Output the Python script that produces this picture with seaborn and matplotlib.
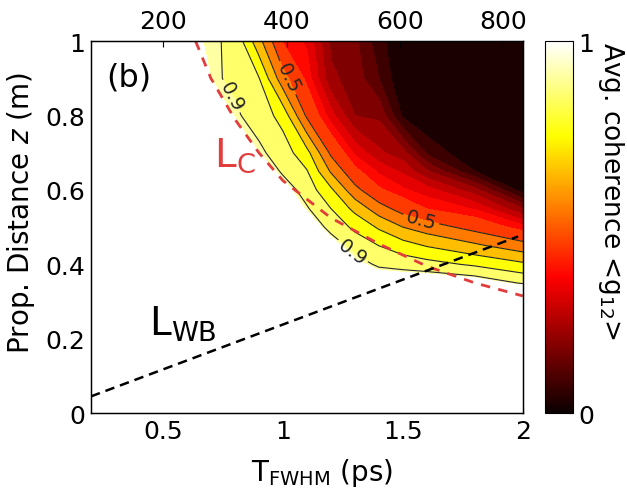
import numpy as np
import matplotlib
matplotlib.use("Agg")
import matplotlib.pyplot as plt
from matplotlib.ticker import FuncFormatter
import seaborn as sns

sns.set_style("white")
plt.rcParams['font.family'] = ['DejaVu Sans']
plt.rcParams['mathtext.fontset'] = 'dejavusans'
plt.rcParams['text.color'] = 'black'
plt.rcParams['axes.labelcolor'] = 'black'

# --------------------------------
# Data
# --------------------------------
# pulse width T_FWHM (ps) and propagation distance z (m)
x_grid = [0.2, 0.6, 0.7, 0.8, 0.9, 1.0, 1.1, 1.2, 1.3, 1.4, 1.5, 1.6, 1.8, 2.0]
z_grid = [0.0, 0.33, 0.35, 0.4, 0.45, 0.5, 0.55, 0.6, 0.65, 0.7, 0.8, 0.9, 1.0]

# average coherence <g12>, one row per z value
coherence = [
    [1, 1, 1, 1, 1, 1, 1, 1, 1, 1, 1, 1, 1, 1],
    [1, 1, 1, 1, 1, 1, 1, 1, 1, 1, 1, 1, 1, 1],
    [1, 1, 1, 1, 1, 1, 1, 1, 1, 1, 1, 1, 0.97, 0.89],
    [1, 1, 1, 1, 1, 1, 1, 1, 0.95, 0.882, 0.86, 0.837, 0.784, 0.72],
    [1, 1, 1, 1, 1, 1, 1, 0.97, 0.856, 0.80, 0.743, 0.694, 0.62, 0.54],
    [1, 1, 1, 1, 1, 1, 1, 0.862, 0.78, 0.686, 0.60, 0.549, 0.464, 0.368],
    [1, 1, 1, 1, 1, 1, 0.91, 0.80, 0.671, 0.543, 0.457, 0.397, 0.344, 0.20],
    [1, 1, 1, 1, 1, 0.96, 0.854, 0.719, 0.532, 0.412, 0.359, 0.322, 0.22, 0.02],
    [1, 1, 1, 1, 1, 0.884, 0.807, 0.589, 0.421, 0.34, 0.289, 0.207, 0.05, 0.0],
    [1, 1, 1, 1, 0.92, 0.852, 0.731, 0.48, 0.338, 0.26, 0.22, 0.09, 0.0, 0.0],
    [1, 1, 1, 0.915, 0.858, 0.763, 0.482, 0.32, 0.20, 0.19, 0.04, 0.0, 0.0, 0.0],
    [1, 1, 0.92, 0.878, 0.805, 0.536, 0.38, 0.21, 0.18, 0.10, 0.0, 0.0, 0.0, 0.0],
    [1, 0.93, 0.915, 0.88, 0.633, 0.394, 0.34, 0.19, 0.16, 0.07, 0.0, 0.0, 0.0, 0.0],
]

# L_C curve (red dashed)
lc_x = [0.636, 0.7, 0.8, 0.9, 1.0, 1.2, 1.4, 1.6, 1.8, 2.0]
lc_z = [1.0, 0.9, 0.79, 0.70, 0.625, 0.525, 0.455, 0.395, 0.35, 0.315]

# L_WB line (black dashed)
lwb_x = [0.2, 1.98]
lwb_z = [0.045, 0.475]

fill_levels = [0, 0.05, 0.1, 0.15, 0.2, 0.25, 0.3, 0.35, 0.4,
               0.5, 0.6, 0.7, 0.8, 0.9, 0.92, 1.01]
plain_levels = [0.6, 0.7, 0.8]
labelled_levels = [0.5, 0.9]
label_spots = [(0.78, 0.85), (1.28, 0.427), (0.99, 0.89), (1.58, 0.53)]

x_ticks = [0.5, 1, 1.5, 2]
y_ticks = [0, 0.2, 0.4, 0.6, 0.8, 1]
top_tick_pos = [0.5, 1.015, 1.487, 1.916]
top_tick_labels = ['200', '400', '600', '800']

# --------------------------------
# Plot
# --------------------------------
cmap = sns.color_palette("hot", as_cmap=True)
band_colors = [cmap((lo + hi) / 2) for lo, hi in zip(fill_levels[:-2], fill_levels[1:-1])]
band_colors.append('white')

fig = plt.figure(figsize=(6.27, 5.02), dpi=100)
ax = fig.add_axes([0.145, 0.175, 0.689, 0.741])

X, Z = np.meshgrid(x_grid, z_grid)
C = np.array(coherence)
ax.contourf(X, Z, C, levels=fill_levels, colors=band_colors)
ax.contour(X, Z, C, levels=plain_levels, colors='#262626', linewidths=0.8)
cs = ax.contour(X, Z, C, levels=labelled_levels, colors='#262626', linewidths=0.8)
ax.clabel(cs, fmt='%.1f', fontsize=14, inline=True, inline_spacing=3, manual=label_spots)

ax.plot(lc_x, lc_z, color='#e23c3c', lw=2, ls=(0, (3.4, 3)))
ax.plot(lwb_x, lwb_z, color='black', lw=1.8, ls=(0, (3.8, 2.4)))

ax.text(0.262, 0.905, '(b)', fontsize=23, va='center', ha='left')
ax.text(0.712, 0.664, r'L$_\mathregular{C}$', fontsize=28, color='#e23c3c', va='baseline')
ax.text(0.44, 0.212, r'L$_\mathregular{WB}$', fontsize=28, color='black', va='baseline')

ax.set_xlim(0.2, 2.0)
ax.set_ylim(0, 1)
ax.set_xticks(x_ticks)
ax.set_yticks(y_ticks)
ax.xaxis.set_major_formatter(FuncFormatter(lambda v, p: f'{v:g}'))
ax.yaxis.set_major_formatter(FuncFormatter(lambda v, p: f'{v:g}'))
ax.tick_params(direction='in', length=4, labelsize=18, colors='black', pad=4)
ax.set_xlabel(r'T$_\mathregular{FWHM}$ (ps)', fontsize=20)
ax.set_ylabel(r'Prop. Distance $z$ (m)', fontsize=20)
ax.xaxis.set_label_coords(0.535, -0.115, transform=ax.transAxes)
ax.yaxis.set_label_coords(-0.125, 0.54, transform=ax.transAxes)
for s in ax.spines.values():
    s.set_color('black')
    s.set_linewidth(1.0)

ax_top = ax.twiny()
ax_top.set_xlim(ax.get_xlim())
ax_top.set_xticks(top_tick_pos)
ax_top.set_xticklabels(top_tick_labels)
ax_top.tick_params(direction='in', length=4, labelsize=18, colors='black', pad=6)
for s in ax_top.spines.values():
    s.set_color('black')

cax = fig.add_axes([0.869, 0.175, 0.045, 0.741])
sm = plt.cm.ScalarMappable(cmap=cmap, norm=plt.Normalize(0, 1))
cb = fig.colorbar(sm, cax=cax, ticks=[0, 1])
cb.ax.set_yticklabels(['0', '1'])
cb.ax.tick_params(direction='in', length=3, labelsize=18, colors='black', pad=4)
cb.outline.set_edgecolor('black')
cb.set_label(r'Avg. coherence <g$_\mathregular{12}$>', fontsize=19, rotation=270,
             va='center', ha='center')
cb.ax.yaxis.set_label_coords(2.36, 0.6, transform=cb.ax.transAxes)

fig.savefig("out.png", dpi=100)
